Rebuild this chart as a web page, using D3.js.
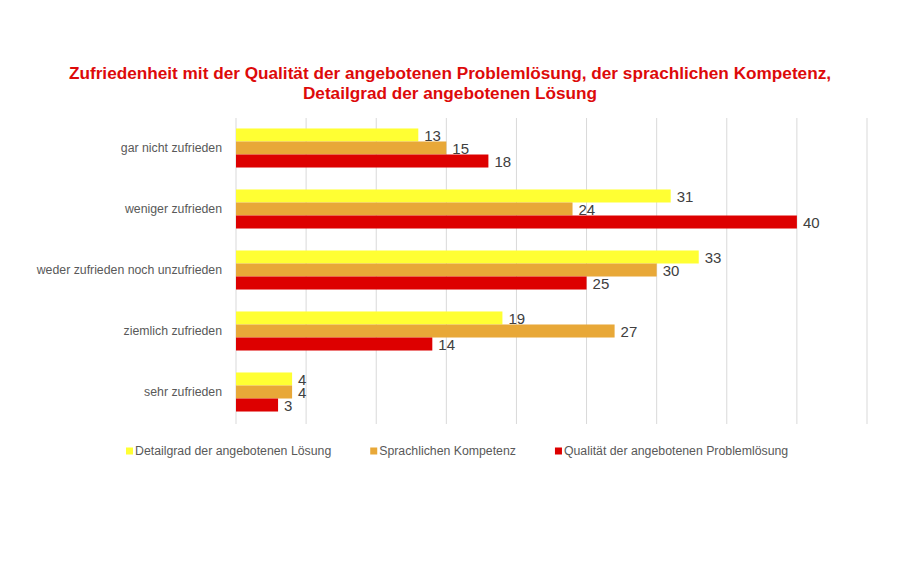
<!DOCTYPE html>
<html><head><meta charset="utf-8">
<script src="https://cdn.jsdelivr.net/npm/d3@7"></script>
<style>body{margin:0;background:#fff}svg{display:block}</style>
</head><body>
<svg id="c" width="900" height="563"></svg>
<script>
const categories = ["gar nicht zufrieden","weniger zufrieden","weder zufrieden noch unzufrieden","ziemlich zufrieden","sehr zufrieden"];
const seriesNames = ["Detailgrad der angebotenen Lösung","Sprachlichen Kompetenz","Qualität der angebotenen Problemlösung"];
const detailgrad = [13,31,33,19,4];
const sprachlich = [15,24,30,27,4];
const qualitaet = [18,40,25,14,3];
const xTicks = [0,5,10,15,20,25,30,35,40,45];
const titleLines = ["Zufriedenheit mit der Qualität der angebotenen Problemlösung, der sprachlichen Kompetenz,","Detailgrad der angebotenen Lösung"];

const colors = ["#ffff33","#e8a838","#dd0000"];
const series = [detailgrad, sprachlich, qualitaet];
const font = "'Liberation Sans',Arial,sans-serif";

const svg = d3.select("#c");
const x = d3.scaleLinear().domain([0,45]).range([236,867]);
const y = d3.scaleBand().domain(categories).range([117.5,422.5]).paddingInner(0.36).paddingOuter(0.18);
const ys = d3.scaleBand().domain(d3.range(series.length)).range([0,y.bandwidth()]);

// title
svg.append("g").selectAll("text").data(titleLines).join("text")
  .attr("x",450).attr("y",(d,i)=>79+i*20).attr("text-anchor","middle")
  .attr("font-family",font).attr("font-weight","bold")
  .attr("font-size",17.2).attr("fill","#dd0a0a").text(d=>d);

// grid
svg.append("g").selectAll("line").data(xTicks).join("line")
  .attr("x1",d=>x(d)).attr("x2",d=>x(d)).attr("y1",118).attr("y2",424)
  .attr("stroke","#d9d9d9").attr("stroke-width",1);

// category labels
svg.append("g").selectAll("text").data(categories).join("text")
  .attr("x",222).attr("y",d=>y(d)+y.bandwidth()/2).attr("dy","0.35em")
  .attr("text-anchor","end").attr("font-family",font).attr("font-size",12.3)
  .attr("fill","#595959").text(d=>d);

// bars
series.forEach((vals,si)=>{
  const g = svg.append("g");
  g.selectAll("rect").data(vals).join("rect")
    .attr("x",x(0)).attr("y",(d,i)=>y(categories[i])+ys(si))
    .attr("width",d=>x(d)-x(0)).attr("height",ys.bandwidth())
    .attr("fill",colors[si]);
  g.selectAll("text").data(vals).join("text")
    .attr("x",d=>x(d)+6).attr("y",(d,i)=>y(categories[i])+ys(si)+ys.bandwidth()/2+1).attr("dy","0.35em")
    .attr("font-family",font).attr("font-size",15).attr("fill","#404040").text(d=>d);
});

// legend
const lg = svg.append("g");
let lx = 126;
seriesNames.forEach((n,i)=>{
  lg.append("rect").attr("x",lx).attr("y",447.5).attr("width",7).attr("height",7).attr("fill",colors[i]);
  const t = lg.append("text").attr("x",lx+9).attr("y",451).attr("dy","0.35em")
    .attr("font-family",font).attr("font-size",12.3).attr("fill","#595959").text(n);
  lx += 9 + t.node().getComputedTextLength() + 39;
});
</script>
</body></html>
